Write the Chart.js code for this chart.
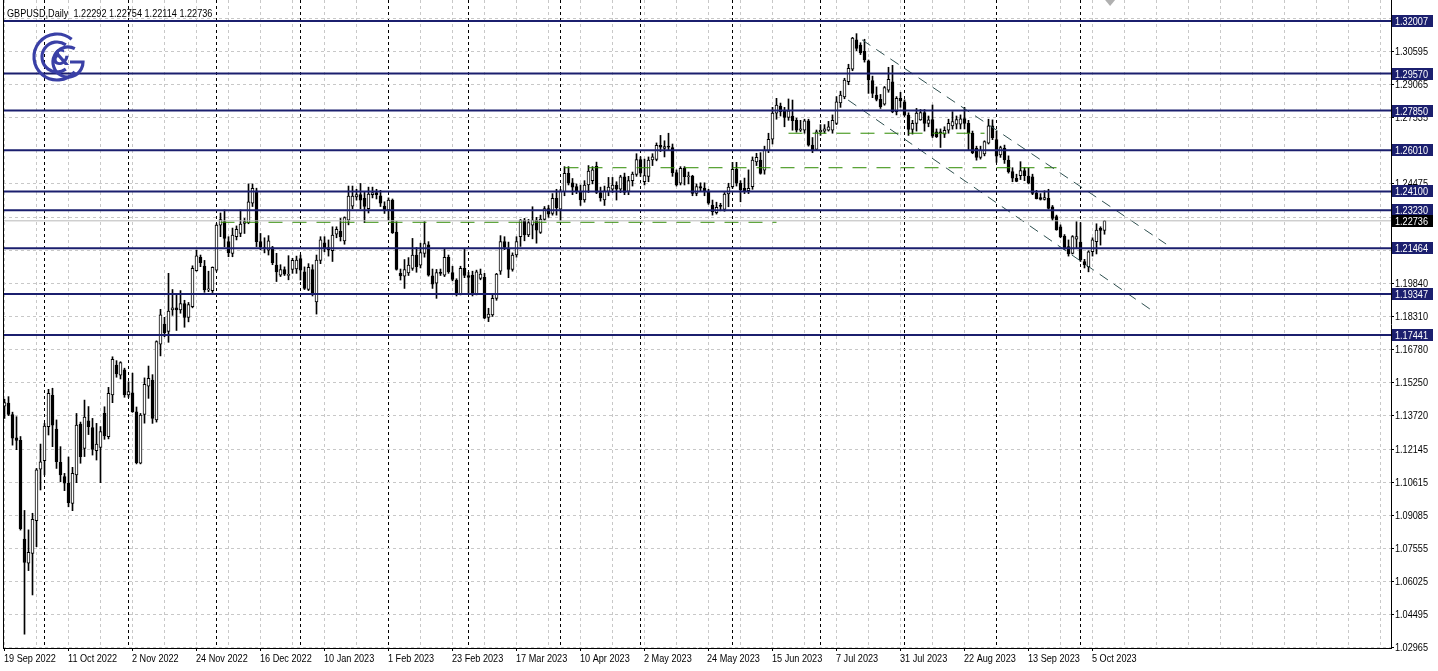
<!DOCTYPE html>
<html><head><meta charset="utf-8">
<script src="https://cdn.jsdelivr.net/npm/chart.js@4.4.0/dist/chart.umd.min.js"></script>
<style>html,body{margin:0;padding:0;background:#fff;overflow:hidden}</style>
</head><body><canvas id="c" width="1438" height="671"></canvas>
<script>
const openP=[1.1414,1.1428,1.1375,1.1267,1.1255,1.0797,1.0685,1.0731,1.0883,1.1121,1.1161,1.1319,1.1464,1.1307,1.1153,1.1087,1.1056,1.0963,1.1095,1.1331,1.1218,1.1346,1.1314,1.1207,1.1222,1.1381,1.1272,1.1466,1.1605,1.1558,1.1582,1.1466,1.1476,1.1388,1.1149,1.1375,1.1507,1.1535,1.1350,1.1702,1.1795,1.1760,1.1860,1.1870,1.1860,1.1890,1.1825,1.1875,1.2042,1.2104,1.2064,1.1953,1.1950,1.2045,1.2254,1.2270,1.2177,1.2123,1.2200,1.2215,1.2262,1.2265,1.2355,1.2413,1.2177,1.2150,1.2138,1.2150,1.2068,1.2022,1.2048,1.2020,1.2048,1.2050,1.2098,1.2037,1.1955,1.2048,1.1898,1.2090,1.2172,1.2150,1.2135,1.2212,1.2225,1.2181,1.2277,1.2342,1.2385,1.2395,1.2378,1.2330,1.2395,1.2405,1.2390,1.2342,1.2324,1.2370,1.2222,1.2030,1.2017,1.2032,1.2053,1.2115,1.2068,1.2123,1.2162,1.2018,1.1984,1.2035,1.2022,1.2104,1.2033,1.1999,1.1934,1.2053,1.2020,1.2022,1.1934,1.2007,1.2012,1.1826,1.1837,1.1914,1.2040,1.2177,1.2141,1.2048,1.2115,1.2200,1.2277,1.2208,1.2254,1.2277,1.2220,1.2280,1.2331,1.2308,1.2378,1.2328,1.2409,1.2494,1.2450,1.2432,1.2409,1.2371,1.2440,1.2460,1.2526,1.2405,1.2371,1.2410,1.2420,1.2440,1.2420,1.2478,1.2410,1.2460,1.2489,1.2558,1.2455,1.2480,1.2556,1.2558,1.2624,1.2610,1.2620,1.2614,1.2497,1.2448,1.2517,1.2478,1.2481,1.2401,1.2432,1.2425,1.2409,1.2347,1.2311,1.2345,1.2327,1.2398,1.2432,1.2513,1.2448,1.2424,1.2413,1.2432,1.2547,1.2556,1.2509,1.2599,1.2652,1.2773,1.2806,1.2787,1.2753,1.2760,1.2740,1.2694,1.2694,1.2738,1.2625,1.2605,1.2687,1.2690,1.2694,1.2694,1.2726,1.2821,1.2849,1.2919,1.2977,1.3113,1.3089,1.3060,1.3016,1.2924,1.2857,1.2837,1.2815,1.2880,1.2919,1.2780,1.2842,1.2826,1.2764,1.2698,1.2726,1.2742,1.2776,1.2726,1.2743,1.2687,1.2687,1.2676,1.2694,1.2714,1.2722,1.2722,1.2748,1.2726,1.2680,1.2610,1.2568,1.2584,1.2634,1.2714,1.2651,1.2579,1.2610,1.2556,1.2502,1.2471,1.2483,1.2507,1.2481,1.2478,1.2404,1.2382,1.2373,1.2378,1.2339,1.2293,1.2246,1.2203,1.2154,1.2123,1.2188,1.2175,1.2084,1.2061,1.2130,1.2177,1.2240,1.22292];
const highP=[1.1446,1.1458,1.1386,1.1365,1.1273,1.0930,1.0840,1.0917,1.1125,1.1238,1.1334,1.1492,1.1497,1.1350,1.1226,1.1102,1.1178,1.1130,1.1380,1.1340,1.1442,1.1412,1.1357,1.1334,1.1319,1.1411,1.1501,1.1643,1.1625,1.1620,1.1590,1.1527,1.1567,1.1410,1.1380,1.1545,1.1600,1.1560,1.1717,1.1863,1.1826,1.2030,1.1955,1.1930,1.1950,1.1905,1.1895,1.2065,1.2138,1.2115,1.2090,1.2040,1.2060,1.2260,1.2310,1.2324,1.2200,1.2240,1.2250,1.2324,1.2285,1.2445,1.2445,1.2425,1.2215,1.2195,1.2205,1.2155,1.2123,1.2070,1.2060,1.2112,1.2100,1.2110,1.2115,1.2060,1.2075,1.2070,1.2115,1.2200,1.2200,1.2185,1.2246,1.2246,1.2285,1.2292,1.2435,1.2435,1.2420,1.2447,1.2410,1.2430,1.2430,1.2420,1.2415,1.2362,1.2380,1.2375,1.2270,1.2050,1.2094,1.2103,1.2192,1.2150,1.2170,1.2270,1.2177,1.2050,1.2048,1.2050,1.2145,1.2115,1.2063,1.2005,1.2063,1.2143,1.2035,1.2040,1.2045,1.2050,1.2030,1.1868,1.1930,1.2030,1.2205,1.2200,1.2175,1.2125,1.2200,1.2280,1.2285,1.2280,1.2339,1.2290,1.2300,1.2340,1.2345,1.2400,1.2420,1.2420,1.2525,1.2525,1.2470,1.2445,1.2440,1.2460,1.2530,1.2525,1.2546,1.2430,1.2435,1.2475,1.2475,1.2455,1.2485,1.2495,1.2480,1.2500,1.2585,1.2570,1.2560,1.2570,1.2585,1.2635,1.2670,1.2645,1.2680,1.2630,1.2510,1.2525,1.2525,1.2500,1.2485,1.2445,1.2450,1.2450,1.2420,1.2370,1.2360,1.2355,1.2405,1.2448,1.2545,1.2545,1.2460,1.2472,1.2510,1.2570,1.2587,1.2590,1.2620,1.2680,1.2800,1.2842,1.2820,1.2800,1.2839,1.2834,1.2750,1.2740,1.2745,1.2745,1.2660,1.2695,1.2720,1.2720,1.2735,1.2765,1.2850,1.2875,1.2935,1.3000,1.3125,1.3142,1.3100,1.3116,1.3020,1.2945,1.2895,1.2860,1.2897,1.2986,1.2995,1.2850,1.2870,1.2835,1.2775,1.2740,1.2795,1.2790,1.2790,1.2760,1.2811,1.2700,1.2700,1.2710,1.2745,1.2780,1.2760,1.2765,1.2800,1.2740,1.2690,1.2620,1.2620,1.2645,1.2745,1.2742,1.2690,1.2620,1.2625,1.2575,1.2520,1.2490,1.2548,1.2520,1.2518,1.2490,1.2415,1.2400,1.2413,1.2420,1.2345,1.2300,1.2255,1.2210,1.2185,1.2205,1.2270,1.2265,1.2095,1.2135,1.2195,1.2260,1.2246,1.22754];
const lowP=[1.1357,1.1370,1.1233,1.1212,1.0839,1.0356,1.0651,1.0538,1.0762,1.1025,1.1095,1.1280,1.1226,1.1125,1.1063,1.1022,1.0947,1.0929,1.1059,1.1149,1.1180,1.1282,1.1187,1.1164,1.1059,1.1260,1.1262,1.1430,1.1548,1.1540,1.1455,1.1455,1.1385,1.1146,1.1146,1.1335,1.1450,1.1334,1.1340,1.1647,1.1736,1.1710,1.1835,1.1765,1.1845,1.1780,1.1805,1.1870,1.2040,1.2061,1.1942,1.1945,1.1941,1.2040,1.2200,1.2153,1.2107,1.2107,1.2185,1.2200,1.2215,1.2260,1.2340,1.2154,1.2139,1.2125,1.2115,1.2070,1.1992,1.2015,1.2020,1.2000,1.2030,1.2030,1.1999,1.1955,1.1950,1.1925,1.1841,1.2075,1.2130,1.2110,1.2085,1.2195,1.2180,1.2165,1.2255,1.2330,1.2370,1.2330,1.2265,1.2310,1.2380,1.2375,1.2340,1.2308,1.2277,1.2215,1.2045,1.1999,1.1960,1.2020,1.2044,1.2035,1.2055,1.2105,1.2017,1.1960,1.1914,1.2020,1.2015,1.2030,1.1995,1.1925,1.1930,1.2010,1.1940,1.1925,1.1930,1.2000,1.1820,1.1806,1.1830,1.1905,1.2025,1.2140,1.2010,1.2040,1.2105,1.2155,1.2181,1.2200,1.2190,1.2170,1.2215,1.2275,1.2290,1.2300,1.2300,1.2275,1.2390,1.2440,1.2395,1.2400,1.2345,1.2360,1.2405,1.2445,1.2400,1.2365,1.2345,1.2390,1.2405,1.2370,1.2405,1.2395,1.2395,1.2435,1.2480,1.2480,1.2440,1.2455,1.2530,1.2552,1.2595,1.2570,1.2600,1.2480,1.2435,1.2440,1.2440,1.2445,1.2390,1.2390,1.2410,1.2390,1.2350,1.2300,1.2305,1.2320,1.2318,1.2339,1.2425,1.2435,1.2362,1.2400,1.2400,1.2420,1.2530,1.2490,1.2490,1.2590,1.2630,1.2745,1.2760,1.2710,1.2740,1.2694,1.2685,1.2688,1.2680,1.2620,1.2590,1.2600,1.2670,1.2680,1.2690,1.2680,1.2720,1.2800,1.2840,1.2905,1.2970,1.3063,1.3045,1.3010,1.2865,1.2845,1.2830,1.2795,1.2810,1.2870,1.2775,1.2765,1.2800,1.2760,1.2670,1.2676,1.2690,1.2740,1.2690,1.2710,1.2660,1.2660,1.2614,1.2660,1.2680,1.2699,1.2700,1.2700,1.2700,1.2602,1.2585,1.2555,1.2560,1.2575,1.2630,1.2650,1.2545,1.2568,1.2540,1.2495,1.2455,1.2455,1.2465,1.2460,1.2445,1.2395,1.2375,1.2370,1.2370,1.2328,1.2275,1.2230,1.2195,1.2140,1.2110,1.2120,1.2146,1.2085,1.2055,1.2037,1.2110,1.2120,1.2161,1.22114];
const closeP=[1.1430,1.1375,1.1265,1.1255,1.0845,1.0689,1.0736,1.0889,1.1118,1.1156,1.1322,1.1473,1.1326,1.1156,1.1095,1.1056,1.0966,1.1102,1.1326,1.1180,1.1363,1.1319,1.1213,1.1238,1.1296,1.1276,1.1473,1.1631,1.1563,1.1616,1.1466,1.1481,1.1388,1.1152,1.1373,1.1515,1.1543,1.1357,1.1713,1.1837,1.1755,1.1855,1.1870,1.1860,1.1890,1.1825,1.1885,1.2053,1.2111,1.2079,1.1953,1.1958,1.2058,1.2254,1.2280,1.2192,1.2126,1.2208,1.2234,1.2259,1.2270,1.2362,1.2424,1.2177,1.2151,1.2145,1.2181,1.2079,1.2037,1.2048,1.2026,1.2026,1.2090,1.2092,1.2045,1.1960,1.2058,1.1937,1.2092,1.2185,1.2146,1.2140,1.2208,1.2234,1.2200,1.2289,1.2389,1.2389,1.2395,1.2370,1.2340,1.2398,1.2405,1.2395,1.2355,1.2324,1.2370,1.2219,1.2048,1.2018,1.2048,1.2068,1.2115,1.2061,1.2126,1.2168,1.2022,1.1980,1.2033,1.2030,1.2104,1.2037,1.2002,1.1937,1.2053,1.2020,1.2011,1.1937,1.2037,1.2027,1.1822,1.1841,1.1914,1.2027,1.2177,1.2150,1.2048,1.2115,1.2177,1.2277,1.2208,1.2265,1.2277,1.2230,1.2282,1.2331,1.2305,1.2378,1.2335,1.2410,1.2494,1.2450,1.2430,1.2409,1.2371,1.2440,1.2505,1.2510,1.2405,1.2380,1.2413,1.2430,1.2440,1.2420,1.2478,1.2405,1.2460,1.2490,1.2558,1.2495,1.2484,1.2556,1.2570,1.2624,1.2615,1.2618,1.2615,1.2497,1.2440,1.2517,1.2478,1.2481,1.2401,1.2432,1.2425,1.2410,1.2355,1.2316,1.2336,1.2340,1.2398,1.2430,1.2513,1.2448,1.2417,1.2413,1.2424,1.2556,1.2568,1.2494,1.2602,1.2652,1.2773,1.2811,1.2780,1.2753,1.2784,1.2738,1.2694,1.2701,1.2738,1.2625,1.2602,1.2687,1.2694,1.2700,1.2710,1.2740,1.2826,1.2857,1.2927,1.2981,1.3121,1.3074,1.3054,1.3020,1.2927,1.2865,1.2837,1.2803,1.2892,1.2930,1.2780,1.2842,1.2830,1.2764,1.2698,1.2726,1.2773,1.2776,1.2726,1.2742,1.2666,1.2664,1.2682,1.2694,1.2726,1.2734,1.2743,1.2747,1.2725,1.2680,1.2590,1.2568,1.2602,1.2641,1.2714,1.2660,1.2574,1.2614,1.2556,1.2502,1.2471,1.2456,1.2507,1.2483,1.2448,1.2401,1.2377,1.2373,1.2382,1.2331,1.2285,1.2231,1.2200,1.2146,1.2120,1.2200,1.2200,1.2092,1.2069,1.2130,1.2185,1.2231,1.2229,1.22736];

const tickIdx=[0,16,32,48,64,80,96,112,128,144,160,176,192,208,224,240,256,272];
const tickLabels=['19 Sep 2022','11 Oct 2022','2 Nov 2022','24 Nov 2022','16 Dec 2022','10 Jan 2023','1 Feb 2023','23 Feb 2023','17 Mar 2023','10 Apr 2023','2 May 2023','24 May 2023','15 Jun 2023','7 Jul 2023','31 Jul 2023','22 Aug 2023','13 Sep 2023','5 Oct 2023'];
const monthStartIdx=[10,31,53,74,96,116,139,159,182,204,225,248,269];
const priceTicks=[1.02965,1.04495,1.06025,1.07555,1.09085,1.10615,1.12145,1.13720,1.15250,1.16780,1.18310,1.19840,1.21370,1.22905,1.24475,1.26005,1.27535,1.29065,1.30595,1.32125];
const priceTickLabels=['1.02965','1.04495','1.06025','1.07555','1.09085','1.10615','1.12145','1.13720','1.15250','1.16780','1.18310','1.19840','','','1.24475','','1.27535','1.29065','1.30595',''];
const levels=[1.32007,1.29570,1.27850,1.26010,1.24100,1.23230,1.21464,1.19347,1.17441];
const lastPrice=1.22736;
const titleText='GBPUSD,Daily  1.22292 1.22754 1.22114 1.22736';
const channelUpper=[{x:214.4,y:1.3113},{x:290.4,y:1.2166}];
const channelLower=[{x:210.9,y:1.2834},{x:286.7,y:1.1860}];
const greenA=[{x:54,y:1.2267},{x:193,y:1.2267}];
const greenB=[{x:140,y:1.2520},{x:263,y:1.2520}];
const greenC=[{x:196,y:1.2680},{x:245,y:1.2680}];
const shiftMarkerIdx=276.4;

const X_MIN=-0.375, X_MAX=346.625, Y_MIN=1.02919, Y_MAX=1.32981;
const NAVY='#1b1f6e';
const FONT='11px "Liberation Sans", Arial, sans-serif';
const SX=0.83;

const idx=openP.map((_,i)=>i);
const wicks=idx.map(i=>({x:i,y:[lowP[i],highP[i]]}));
const bodies=idx.map(i=>({x:i,y:[Math.min(openP[i],closeP[i]),Math.max(openP[i],closeP[i])]}));
const bodyColors=idx.map(i=>closeP[i]>=openP[i]?'#ffffff':'#000000');

const levelSets=levels.map(v=>({type:'line',data:[{x:X_MIN,y:v},{x:X_MAX,y:v}],borderColor:NAVY,borderWidth:2,pointRadius:0,order:0}));

function narrowText(ctx,t,x,y,color){ctx.save();ctx.translate(x,y);ctx.scale(SX,1);ctx.fillStyle=color;ctx.textAlign='left';ctx.fillText(t,0,0);ctx.restore();}

const overlay={
  id:'overlay',
  afterDraw(chart){
    const ctx=chart.ctx, y=chart.scales.y, x=chart.scales.x, ca=chart.chartArea;
    ctx.save();
    // left frame
    ctx.fillStyle='#000';ctx.fillRect(ca.left,ca.top,1,ca.bottom-ca.top);
    ctx.font=FONT;
    ctx.textBaseline='middle';
    priceTicks.forEach((v,k)=>{const t=priceTickLabels[k];if(t)narrowText(ctx,t,ca.right+4,Math.round(y.getPixelForValue(v))+0.5,'#000');});
    tickIdx.forEach((v,k)=>narrowText(ctx,tickLabels[k],Math.round(x.getPixelForValue(v))-1,658.5,'#000'));
    const box=(v,bg)=>{const py=Math.round(y.getPixelForValue(v));ctx.fillStyle=bg;ctx.fillRect(ca.right+1,py-6,41,12);narrowText(ctx,v.toFixed(5),ca.right+4,py+0.5,'#fff');};
    levels.forEach(v=>box(v,NAVY));
    box(lastPrice,'#000');
    const mx=x.getPixelForValue(shiftMarkerIdx);
    ctx.fillStyle='#b0b0b0';ctx.beginPath();ctx.moveTo(mx-5,ca.top);ctx.lineTo(mx+5,ca.top);ctx.lineTo(mx,ca.top+6);ctx.closePath();ctx.fill();
    ctx.textBaseline='alphabetic';
    narrowText(ctx,titleText,7,17,'#000');
    // logo
    ctx.strokeStyle='#3a40a6';ctx.lineWidth=3.2;ctx.lineCap='butt';
    ctx.beginPath();ctx.arc(57,57,23,-0.28*Math.PI,0.22*Math.PI,true);ctx.stroke();
    ctx.beginPath();ctx.arc(57,57,15,-0.3*Math.PI,0.3*Math.PI,true);ctx.stroke();
    ctx.beginPath();ctx.arc(68,62,15,-0.35*Math.PI,0,true);ctx.lineTo(70,62);ctx.stroke();
    ctx.fillStyle='#3a40a6';ctx.font='bold 21px "DejaVu Sans"';ctx.textAlign='center';ctx.textBaseline='middle';
    ctx.fillText('&',61,60);
    ctx.restore();
  }
};
const noPad=s=>{s.paddingTop=0;s.paddingBottom=0;s.paddingLeft=0;s.paddingRight=0;};

new Chart(document.getElementById('c'),{
  type:'bar',
  data:{datasets:[
    ...levelSets,
    {type:'line',data:[{x:X_MIN,y:lastPrice},{x:X_MAX,y:lastPrice}],borderColor:'#b8b8b8',borderWidth:1,pointRadius:0,order:0},
    {type:'line',data:channelUpper,borderColor:'#2f5050',borderWidth:1,borderDash:[10,7],pointRadius:0,order:0},
    {type:'line',data:channelLower,borderColor:'#2f5050',borderWidth:1,borderDash:[10,7],pointRadius:0,order:0},
    {type:'line',data:greenA,borderColor:'#2e8b00',borderWidth:1,borderDash:[14,10],pointRadius:0,order:0},
    {type:'line',data:greenB,borderColor:'#2e8b00',borderWidth:1,borderDash:[14,10],pointRadius:0,order:0},
    {type:'line',data:greenC,borderColor:'#2e8b00',borderWidth:1,borderDash:[14,10],pointRadius:0,order:0},
    {data:bodies,backgroundColor:bodyColors,borderColor:'#000',borderWidth:1,borderSkipped:false,barThickness:3,grouped:false,minBarLength:1,order:1},
    {data:wicks,backgroundColor:'#000',borderWidth:0,barThickness:1,grouped:false,order:2}
  ]},
  options:{
    responsive:false,animation:false,
    layout:{padding:{left:3,top:0,right:0,bottom:0}},
    plugins:{legend:{display:false},tooltip:{enabled:false}},
    scales:{
      x:{type:'linear',min:X_MIN,max:X_MAX,offset:false,
        afterBuildTicks:s=>{const set=new Set();for(let i=0;i<=344;i+=8)set.add(i);monthStartIdx.forEach(m=>set.add(m));s.ticks=[...set].sort((a,b)=>a-b).map(v=>({value:v}));},
        afterFit:s=>{s.height=23;noPad(s);},
        grid:{offset:false,color:c=>monthStartIdx.includes(c.tick&&c.tick.value)?'#000':'#c8c8c8',lineWidth:1,tickLength:3,tickColor:c=>tickIdx.includes(c.tick&&c.tick.value)?'#000':'rgba(0,0,0,0)'},
        border:{display:true,color:'#000',width:1,dash:[3,3]},
        ticks:{display:false,autoSkip:false,maxRotation:0,minRotation:0}
      },
      y:{type:'linear',position:'right',min:Y_MIN,max:Y_MAX,
        afterBuildTicks:s=>{s.ticks=priceTicks.map(v=>({value:v}));},
        afterFit:s=>{s.width=47;noPad(s);},
        grid:{color:'#c8c8c8',lineWidth:1,tickLength:3,tickColor:'#000'},
        border:{display:true,color:'#000',width:1,dash:[3,3]},
        ticks:{display:false}
      }
    }
  },
  plugins:[overlay]
});
</script></body></html>
